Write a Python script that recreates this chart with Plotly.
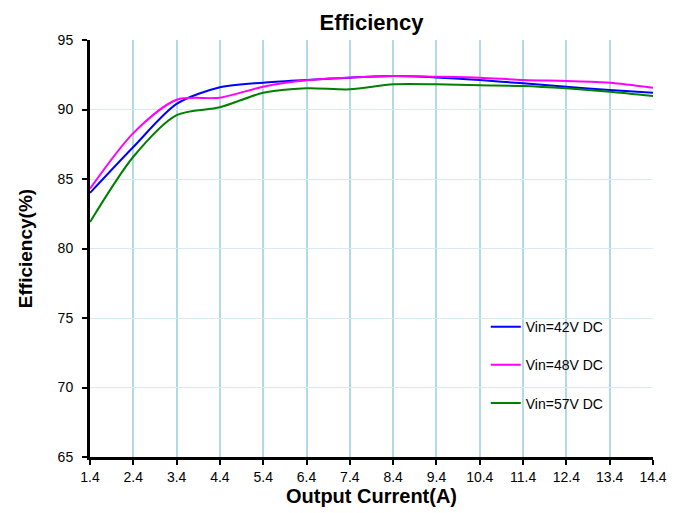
import plotly.graph_objects as go

current = [1.4, 2.4, 3.4, 4.4, 5.4, 6.4, 7.4, 8.4, 9.4, 10.4, 11.4, 12.4, 13.4, 14.4]
eff_42v = [84.0, 87.3, 90.4, 91.6, 91.93, 92.12, 92.29, 92.41, 92.31, 92.12, 91.88, 91.64, 91.4, 91.2]
eff_48v = [84.3, 88.3, 90.7, 90.85, 91.64, 92.1, 92.3, 92.41, 92.36, 92.29, 92.12, 92.05, 91.93, 91.57]
eff_57v = [81.9, 86.6, 89.6, 90.16, 91.2, 91.52, 91.45, 91.81, 91.81, 91.74, 91.69, 91.52, 91.28, 90.97]
x_ticks = current
y_ticks = [65, 70, 75, 80, 85, 90, 95]

series = [
    ("Vin=42V DC", eff_42v, "#0000ff"),
    ("Vin=48V DC", eff_48v, "#ff00ff"),
    ("Vin=57V DC", eff_57v, "#008000"),
]

fig = go.Figure()
for i, (name, vals, color) in enumerate(series):
    fig.add_trace(go.Scatter(
        x=current, y=vals, name=name, mode='lines',
        line=dict(color=color, width=2, shape='spline', smoothing=0.8),
        legendgroup=str(i),
    ))

# white box behind the legend, covering the grid
fig.add_shape(type="rect", xref="paper", yref="paper",
              x0=0.613, x1=0.997, y0=0.077, y1=0.36,
              fillcolor="white", line=dict(width=0), layer="between")

fig.update_layout(
    width=680, height=513,
    margin=dict(l=90, r=27, t=40, b=56),
    paper_bgcolor="white", plot_bgcolor="white",
    font=dict(family="Liberation Sans, Arial", size=14, color="black"),
    title=dict(text="<b>Efficiency</b>", x=0.5, xref="paper", y=0.957, yanchor="middle",
               font=dict(size=22, color="black")),
    legend=dict(x=0.703, y=0.35, xanchor="left", yanchor="top",
                bgcolor="rgba(0,0,0,0)", tracegroupgap=17,
                font=dict(size=14)),
    xaxis=dict(
        range=[1.4, 14.4], tickvals=x_ticks, ticktext=[str(v) for v in x_ticks],
        showgrid=True, gridcolor="#b0dbe5", gridwidth=2,
        showline=True, linecolor="black", linewidth=3,
        ticks="outside", ticklen=5, tickwidth=2, tickcolor="black",
        zeroline=False, automargin=False,
        title=dict(text="<b>Output Current(A)</b>", font=dict(size=20), standoff=4),
    ),
    yaxis=dict(
        range=[65, 95], tickvals=y_ticks,
        showgrid=True, gridcolor="#d4ecf2", gridwidth=1,
        showline=True, linecolor="black", linewidth=3,
        ticks="outside", ticklen=5, tickwidth=2, tickcolor="black",
        ticklabelstandoff=6,
        zeroline=False, automargin=False,
        title=dict(text="<b>Efficiency(%)</b>", font=dict(size=19), standoff=20),
    ),
)

fig.write_html("out.html", config={"displayModeBar": False},
               post_script="document.body.style.margin='0';")
